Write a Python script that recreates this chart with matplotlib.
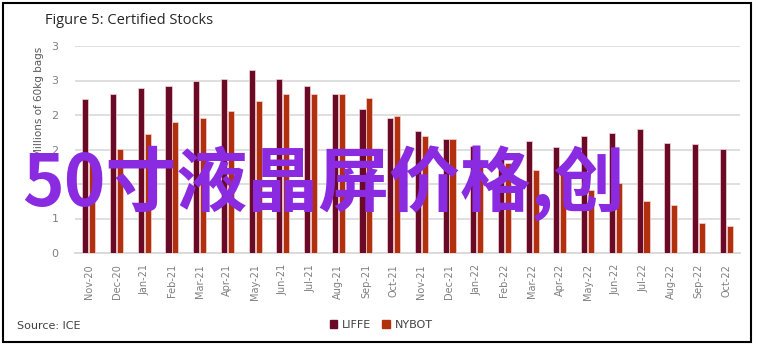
import numpy as np
import matplotlib
matplotlib.use("Agg")
import matplotlib.pyplot as plt
from matplotlib.patches import Rectangle, Patch

# Données (millions de sacs de 60 kg)
months = ["Nov-20", "Dec-20", "Jan-21", "Feb-21", "Mar-21", "Apr-21", "May-21", "Jun-21",
          "Jul-21", "Aug-21", "Sep-21", "Oct-21", "Nov-21", "Dec-21", "Jan-22", "Feb-22",
          "Mar-22", "Apr-22", "May-22", "Jun-22", "Jul-22", "Aug-22", "Sep-22", "Oct-22"]
liffe = [2.23, 2.30, 2.39, 2.42, 2.49, 2.52, 2.65, 2.52, 2.42, 2.30, 2.08, 1.95,
         1.77, 1.65, 1.55, 1.52, 1.62, 1.54, 1.70, 1.74, 1.79, 1.59, 1.58, 1.51]
nybot = [1.39, 1.51, 1.73, 1.90, 1.96, 2.06, 2.20, 2.31, 2.31, 2.30, 2.25, 1.99,
         1.70, 1.65, 1.35, 1.30, 1.21, 1.18, 0.92, 1.02, 0.75, 0.70, 0.43, 0.39]
y_ticks = [0, 0.5, 1, 1.5, 2, 2.5, 3]
y_labels = ["0", "1", "1", "2", "2", "3", "3"]

c_liffe = "#6b0a26"
c_nybot = "#b3300e"
gray = "#7f7f7f"

W, H = 758, 345
fig = plt.figure(figsize=(W / 100, H / 100), dpi=100)
ax = fig.add_axes([75 / W, 1 - 253 / H, 665 / W, 207 / H])

x = np.arange(len(months))
bw = 0.22
ax.bar(x - 0.125, liffe, bw, color=c_liffe, edgecolor="#f2d6d6", linewidth=0.5, zorder=3)
ax.bar(x + 0.125, nybot, bw, color=c_nybot, edgecolor="#f2d6d6", linewidth=0.5, zorder=3)

ax.set_xlim(-0.5, len(months) - 0.5)
ax.set_ylim(0, 3)
ax.set_yticks(y_ticks)
ax.set_yticklabels(y_labels)
ax.set_xticks(x)
ax.set_xticklabels(months, rotation=90)
ax.tick_params(axis="y", length=0, pad=12, labelsize=8, labelcolor=gray)
ax.tick_params(axis="x", length=0, pad=8, labelsize=7, labelcolor=gray)
ax.grid(axis="y", color="#dcdcdc", linewidth=1.3, zorder=0)
for s in ["top", "right", "left"]:
    ax.spines[s].set_visible(False)
ax.spines["bottom"].set_color("#d9d9d9")
ax.spines["bottom"].set_linewidth(1.3)

fig.text(45 / W, 1 - 20 / H, "Figure 5: Certified Stocks", fontsize=10.5, color="#262626",
         family="Open Sans", va="center", ha="left")
fig.text(39 / W, 1 - 102 / H, "Millions of 60kg bags", rotation=90, fontsize=7.5,
         color="#595959", va="center", ha="center")
fig.text(17 / W, 1 - 326 / H, "Source: ICE", fontsize=8, color="#404040",
         va="center", ha="left")

handles = [Patch(color=c_liffe, label="LIFFE"), Patch(color=c_nybot, label="NYBOT")]
fig.legend(handles=handles, loc="center", bbox_to_anchor=(381 / W, 1 - 325 / H), ncol=2,
           frameon=False, fontsize=8, handlelength=0.7, handleheight=0.7,
           handletextpad=0.4, columnspacing=1.0, labelcolor="#404040")

# texte violet superposé
fig.text(22 / W, 1 - 184 / H, "50寸液晶屏价格,创", fontsize=51, color="#8a2be2",
         family=["Noto Sans CJK SC", "DejaVu Sans"], weight="bold",
         va="center", ha="left", zorder=10)

fig.patches.append(Rectangle((3 / W, 1 - 342 / H), 748 / W, 339 / H, transform=fig.transFigure,
                             fill=False, edgecolor="black", linewidth=1.5))

fig.savefig("out.png", dpi=100)
